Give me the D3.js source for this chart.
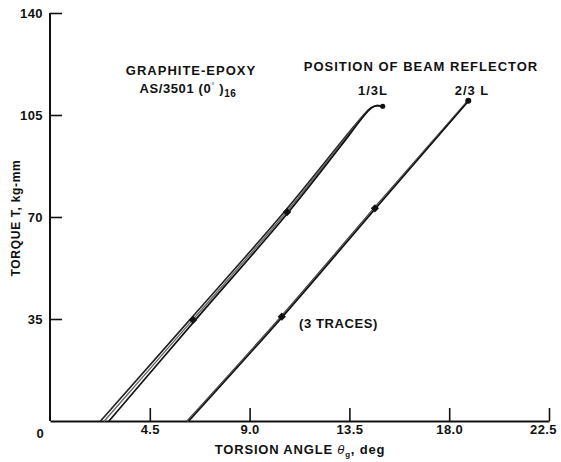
<!DOCTYPE html>
<html><head><meta charset="utf-8">
<script src="https://cdn.jsdelivr.net/npm/d3@7"></script>
<style>
body{margin:0;background:#fff;overflow:hidden;}
text{font-family:"Liberation Sans",Arial,sans-serif;font-weight:bold;fill:#111;}
</style></head>
<body><svg id="c" width="561" height="462"></svg>
<script>
// ---- data ----
const yTicks = [35, 70, 105, 140];
const xTicks = [4.5, 9.0, 13.5, 18.0, 22.5];

// 1/3 L position, three traces (theta deg, torque kg-mm)
const t13aTheta  = [2.28, 6.30, 10.56, 13.32, 14.08, 14.44, 14.71, 15.00];
const t13bTheta  = [2.45, 6.43, 10.66, 13.37, 14.10, 14.45, 14.72, 15.00];
const t13cTheta  = [2.66, 6.56, 10.76, 13.43, 14.13, 14.47, 14.73, 15.00];
const t13Torque  = [0, 34.7, 71.7, 97.5, 104.5, 107.3, 108.2, 108.0];

// 2/3 L position, three traces
const t23aTheta  = [6.18, 10.41, 14.61, 18.84];
const t23bTheta  = [6.22, 10.45, 14.65, 18.86];
const t23cTheta  = [6.26, 10.49, 14.69, 18.88];
const t23Torque  = [0, 35.8, 73.0, 109.9];

// marker points
const mark13Theta = [6.45, 10.69];
const mark13Torque = [34.7, 71.7];
const mark23Theta = [10.45, 14.65];
const mark23Torque = [35.8, 73.0];

// ---- drawing ----
const svg = d3.select("#c");
const x = d3.scaleLinear().domain([0, 22.5]).range([50, 549]);
const y = d3.scaleLinear().domain([0, 140]).range([421, 13]);

const yAxis = d3.axisLeft(y).tickValues(yTicks).tickSizeInner(-12).tickSizeOuter(0).tickPadding(6).tickFormat(d3.format("d"));
const gy = svg.append("g").attr("transform", `translate(${x(0)},0)`).call(yAxis);
const xAxis = d3.axisBottom(x).tickValues(xTicks).tickSizeInner(-13).tickSizeOuter(0).tickPadding(6).tickFormat(d => d.toFixed(1));
const gx = svg.append("g").attr("transform", `translate(0,${y(0)})`).call(xAxis);
[gx, gy].forEach(g => {
  g.select(".domain").attr("stroke", "#111").attr("stroke-width", 2);
  g.selectAll(".tick line").attr("stroke", "#111").attr("stroke-width", 1.6);
  g.selectAll("text").attr("font-size", 13).attr("font-family", "Liberation Sans, Arial, sans-serif")
    .attr("font-weight", "bold").attr("fill", "#111").attr("letter-spacing", 0.4);
});
gy.select(".domain").attr("d", `M0,${y(0)}V${y(140)}`);
gx.selectAll(".tick text").attr("dy", "0.55em");
gx.selectAll(".tick text").filter(d => d === 22.5).attr("dx", -6);
gy.selectAll(".tick text").attr("dx", "-1");
svg.append("text").attr("x", 40).attr("y", 438).attr("text-anchor", "middle").attr("font-size", 13).text("0");

const line = d3.line().x(d => x(d[0])).y(d => y(d[1])).curve(d3.curveCatmullRom.alpha(0.5));
function trace(th, tq, color, w) {
  svg.append("path").datum(th.map((t, i) => [t, tq[i]]))
    .attr("d", line).attr("fill", "none").attr("stroke", color)
    .attr("stroke-width", w).attr("stroke-linecap", "round");
}
trace(t13aTheta, t13Torque, "#222", 1.6);
trace(t13bTheta, t13Torque, "#666", 1.4);
trace(t13cTheta, t13Torque, "#111", 1.7);
trace(t23aTheta, t23Torque, "#333", 1.4);
trace(t23bTheta, t23Torque, "#777", 1.2);
trace(t23cTheta, t23Torque, "#111", 1.6);

// end blobs
svg.append("circle").attr("cx", x(t13aTheta[7])).attr("cy", y(t13Torque[7])).attr("r", 2.6).attr("fill", "#111");
svg.append("circle").attr("cx", x(t23bTheta[3])).attr("cy", y(t23Torque[3])).attr("r", 3).attr("fill", "#111");

const sym = d3.symbol().type(d3.symbolSquare).size(34);
mark13Theta.forEach((t, i) => svg.append("path").attr("d", sym).attr("fill", "#111")
  .attr("transform", `translate(${x(t)},${y(mark13Torque[i])}) rotate(45)`));
mark23Theta.forEach((t, i) => svg.append("path").attr("d", sym).attr("fill", "#111")
  .attr("transform", `translate(${x(t)},${y(mark23Torque[i])}) rotate(45)`));

// annotations
const fs = 13, ls = 1.0;
svg.append("text").attr("x", 191).attr("y", 75).attr("text-anchor", "middle").attr("font-size", fs).attr("letter-spacing", ls).text("GRAPHITE-EPOXY");
const t2 = svg.append("text").attr("x", 188).attr("y", 93).attr("text-anchor", "middle").attr("font-size", fs).attr("letter-spacing", 0.6);
t2.append("tspan").text("AS/3501 (0");
t2.append("tspan").attr("font-size", 8).attr("dy", -5).attr("font-weight", "normal").text("°");
t2.append("tspan").attr("dy", 5).text(" )");
t2.append("tspan").attr("font-size", 10).attr("dy", 4).text("16");
svg.append("text").attr("x", 421).attr("y", 71).attr("text-anchor", "middle").attr("font-size", fs).attr("letter-spacing", ls).text("POSITION OF BEAM REFLECTOR");
svg.append("text").attr("x", 373).attr("y", 95).attr("text-anchor", "middle").attr("font-size", fs).attr("letter-spacing", ls).text("1/3L");
svg.append("text").attr("x", 472).attr("y", 95).attr("text-anchor", "middle").attr("font-size", fs).attr("letter-spacing", ls).text("2/3 L");
svg.append("text").attr("x", 299).attr("y", 328).attr("font-size", fs).attr("letter-spacing", 0.6).text("(3 TRACES)");

const xl = svg.append("text").attr("x", 300).attr("y", 454).attr("text-anchor", "middle").attr("font-size", fs).attr("letter-spacing", 0.8);
xl.append("tspan").text("TORSION ANGLE ");
xl.append("tspan").attr("font-style", "italic").attr("font-weight", "normal").text("θ");
xl.append("tspan").attr("font-size", 8).attr("dy", 3).text("g");
xl.append("tspan").attr("dy", -3).text(", deg");

svg.append("text").attr("transform", "translate(20,218) rotate(-90)").attr("text-anchor", "middle").attr("font-size", 12).attr("letter-spacing", 0.7).text("TORQUE T, kg-mm");
</script></body></html>
